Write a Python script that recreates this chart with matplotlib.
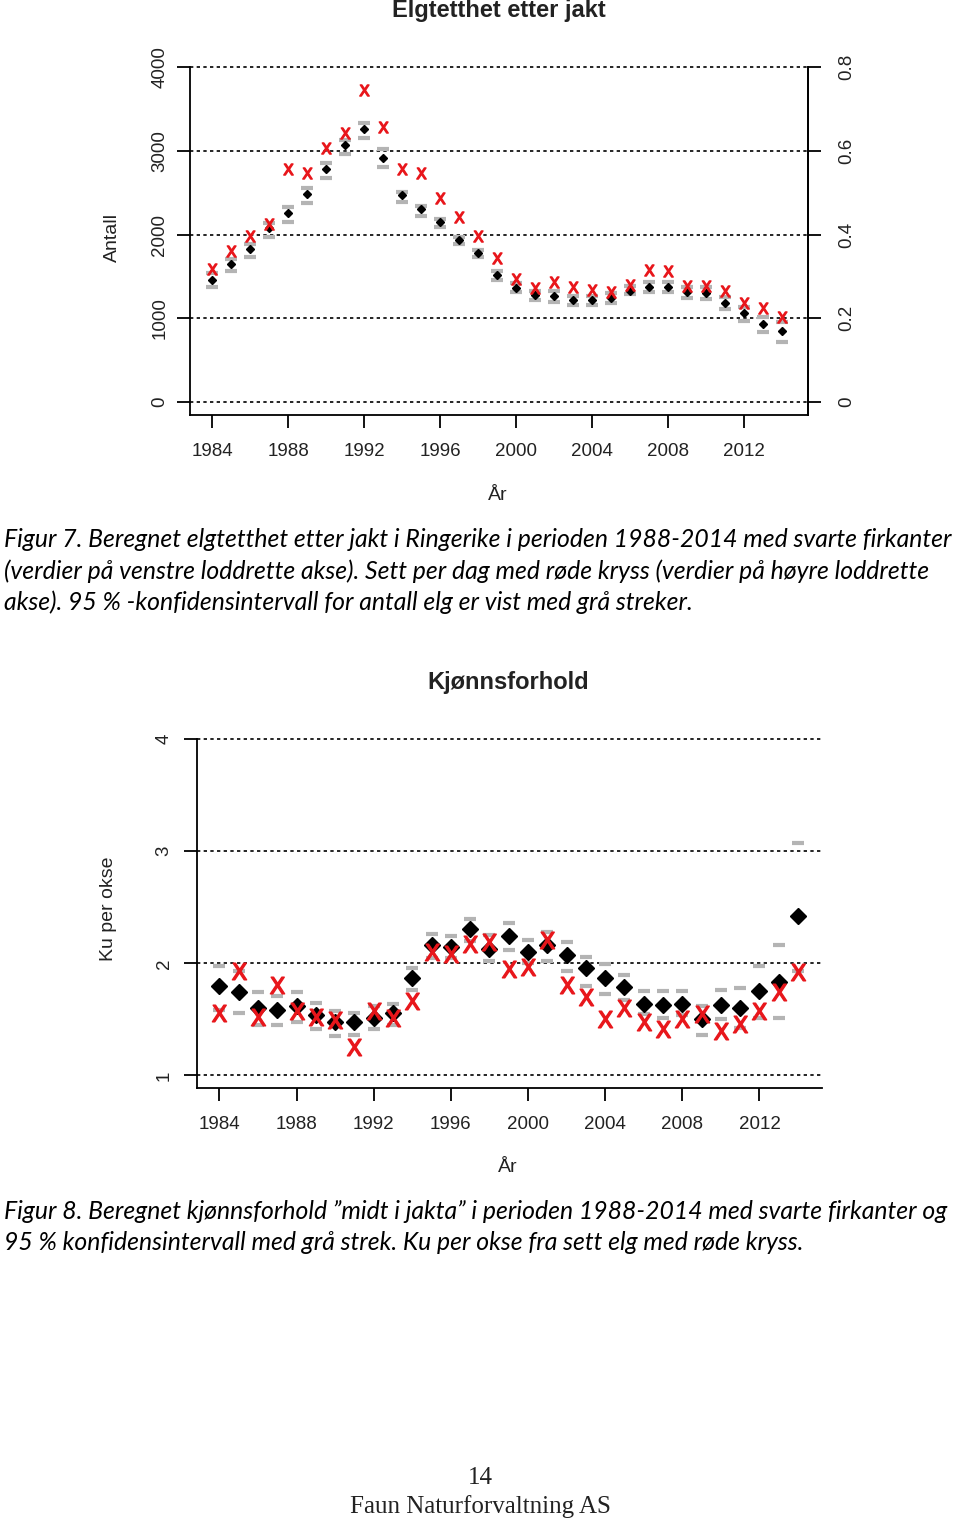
import matplotlib
matplotlib.use('Agg')
import matplotlib.pyplot as plt
import numpy as np

plt.rcParams['font.family'] = ['Liberation Sans', 'DejaVu Sans']

W, H = 960, 1522

years = np.arange(1984, 2015)
tick_years = [1984, 1988, 1992, 1996, 2000, 2004, 2008, 2012]

# Figur 7: elgtetthet etter jakt (antall) med 95 % KI, sett per dag
elg = [1457, 1648, 1831, 2081, 2253, 2484, 2782, 3069, 3256, 2917, 2472, 2301, 2145, 1938, 1779, 1516,
       1365, 1278, 1266, 1214, 1214, 1246, 1329, 1377, 1377, 1309, 1301, 1178, 1059, 931, 851]
elg_lo = [1369, 1564, 1731, 1974, 2149, 2372, 2679, 2961, 3152, 2810, 2392, 2221, 2086, 1883, 1735, 1457,
          1309, 1218, 1190, 1158, 1158, 1178, 1286, 1309, 1309, 1238, 1230, 1110, 971, 839, 720]
elg_hi = [1536, 1707, 1883, 2133, 2325, 2551, 2850, 3128, 3335, 3020, 2511, 2340, 2181, 1966, 1815, 1570,
          1420, 1320, 1330, 1260, 1260, 1300, 1380, 1430, 1430, 1370, 1370, 1250, 1140, 1010, 958]
sett_dag = [0.317, 0.361, 0.397, 0.425, 0.556, 0.548, 0.606, 0.642, 0.745, 0.657, 0.556, 0.548, 0.488, 0.443,
            0.397, 0.343, 0.294, 0.273, 0.287, 0.274, 0.267, 0.262, 0.279, 0.315, 0.313, 0.277, 0.278, 0.265,
            0.237, 0.225, 0.204]

# Figur 8: kjønnsforhold med 95 % KI, ku per okse fra sett elg
ku = [1.80, 1.74, 1.60, 1.58, 1.62, 1.54, 1.48, 1.48, 1.51, 1.56, 1.87, 2.16, 2.15, 2.31, 2.13, 2.24,
      2.10, 2.16, 2.07, 1.96, 1.87, 1.79, 1.64, 1.63, 1.64, 1.50, 1.63, 1.60, 1.75, 1.83, 2.42]
ku_lo = [1.58, 1.56, 1.45, 1.45, 1.48, 1.41, 1.35, 1.36, 1.41, 1.45, 1.76, 2.05, 2.05, 2.20, 2.02, 2.12,
         2.00, 2.02, 1.93, 1.80, 1.73, 1.67, 1.55, 1.51, 1.54, 1.36, 1.50, 1.42, 1.51, 1.51, 1.93]
ku_hi = [1.98, 1.93, 1.74, 1.71, 1.74, 1.65, 1.57, 1.56, 1.62, 1.64, 1.96, 2.26, 2.24, 2.40, 2.25, 2.36,
         2.21, 2.28, 2.19, 2.06, 1.99, 1.90, 1.75, 1.75, 1.75, 1.62, 1.76, 1.78, 1.98, 2.16, 3.07]
sett_ku = [1.56, 1.93, 1.52, 1.81, 1.57, 1.52, 1.49, 1.25, 1.57, 1.51, 1.66, 2.10, 2.08, 2.17, 2.19, 1.95,
           1.97, 2.21, 1.81, 1.70, 1.50, 1.60, 1.48, 1.41, 1.50, 1.55, 1.40, 1.46, 1.57, 1.74, 1.92]

fig = plt.figure(figsize=(W / 100, H / 100), dpi=100)


def rect(l, r, t, b):
    return [l / W, 1 - b / H, (r - l) / W, (b - t) / H]


def ftext(x, y, s, **kw):
    fig.text(x / W, 1 - y / H, s, **kw)


grey = '#b4b4b4'
red = '#e8161b'
xmark = r'$\mathsf{X}$'
dots = (0, (2, 2))
tick_kw = dict(length=9.5, width=1.3, labelsize=13.5, colors='black', labelcolor='#222222')

# ---------- Figur 7 ----------
ax = fig.add_axes(rect(190, 808, 60, 415))
ax.set_xlim(1982.84, 2015.37)
ax.set_ylim(-155, 4084)
for v in [0, 1000, 2000, 3000, 4000]:
    ax.axhline(v, color='black', ls=dots, lw=1.2, zorder=1)
ax.plot(years, elg_hi, ls='none', marker='_', ms=9, mew=3, color=grey, zorder=2)
ax.plot(years, elg_lo, ls='none', marker='_', ms=9, mew=3, color=grey, zorder=2)
ax.plot(years, elg, ls='none', marker='D', ms=4.5, color='black', zorder=3)
ax.spines['top'].set_visible(False)
ax.spines['left'].set_bounds(-155, 4000)
ax.spines['right'].set_bounds(-155, 4000)
for s in ax.spines.values():
    s.set_linewidth(1.3)
ax.set_yticks([0, 1000, 2000, 3000, 4000])
ax.set_yticklabels(['0', '1000', '2000', '3000', '4000'], rotation=90, va='center')
ax.set_xticks(tick_years)
ax.tick_params(**tick_kw)
ax.tick_params(axis='x', pad=11)
ax.tick_params(axis='y', pad=6)
ax.set_ylabel('Antall', fontsize=14, color='#222222', labelpad=22)

ax2 = ax.twinx()
ax2.set_ylim(-155 / 5000, 4084 / 5000)
ax2.plot(years, sett_dag, ls='none', marker=xmark, ms=8, color=red, zorder=4)
for k in ['top', 'left', 'bottom']:
    ax2.spines[k].set_visible(False)
ax2.spines['right'].set_bounds(-155 / 5000, 0.8)
ax2.spines['right'].set_linewidth(1.3)
ax2.set_yticks([0, 0.2, 0.4, 0.6, 0.8])
ax2.set_yticklabels(['0', '0.2', '0.4', '0.6', '0.8'], rotation=90, va='center')
ax2.tick_params(**tick_kw)
ax2.tick_params(axis='y', pad=12)

ftext(499, 10, 'Elgtetthet etter jakt', ha='center', va='center', fontsize=17, fontweight='bold', color='#222222')
ftext(498, 495, 'År', ha='center', va='center', fontsize=14, color='#222222')

# ---------- Figur 8 ----------
bx = fig.add_axes(rect(197, 822, 730, 1088))
bx.set_xlim(1982.84, 2015.24)
bx.set_ylim(0.887, 4.083)
for v in [1, 2, 3, 4]:
    bx.axhline(v, color='black', ls=dots, lw=1.2, zorder=1)
bx.plot(years, ku_hi, ls='none', marker='_', ms=9, mew=3, color=grey, zorder=2)
bx.plot(years, ku_lo, ls='none', marker='_', ms=9, mew=3, color=grey, zorder=2)
bx.plot(years, ku, ls='none', marker='D', ms=8, color='black', zorder=3)
bx.plot(years, sett_ku, ls='none', marker=xmark, ms=12, color=red, zorder=4)
bx.spines['top'].set_visible(False)
bx.spines['right'].set_visible(False)
bx.spines['left'].set_bounds(0.887, 4)
for s in bx.spines.values():
    s.set_linewidth(1.3)
bx.set_yticks([1, 2, 3, 4])
bx.set_yticklabels(['1', '2', '3', '4'], rotation=90, va='center')
bx.set_xticks(tick_years)
bx.tick_params(**tick_kw)
bx.tick_params(axis='x', pad=11)
bx.tick_params(axis='y', pad=8)
bx.set_ylabel('Ku per okse', fontsize=14, color='#222222', labelpad=28)

ftext(508, 682, 'Kjønnsforhold', ha='center', va='center', fontsize=17, fontweight='bold', color='#222222')
ftext(508, 1167, 'År', ha='center', va='center', fontsize=14, color='#222222')

# ---------- tekst ----------
cap = dict(fontsize=17.8, style='italic', family=['Lato', 'DejaVu Sans'], va='center', ha='left')
ftext(4, 540, 'Figur 7. Beregnet elgtetthet etter jakt i Ringerike i perioden 1988-2014 med svarte firkanter', **cap)
ftext(4, 571, '(verdier på venstre loddrette akse). Sett per dag med røde kryss (verdier på høyre loddrette', **cap)
ftext(4, 602, 'akse). 95 % -konfidensintervall for antall elg er vist med grå streker.', **cap)
ftext(4, 1211, 'Figur 8. Beregnet kjønnsforhold \u201dmidt i jakta\u201d i perioden 1988-2014 med svarte firkanter og', **cap)
ftext(4, 1242, '95 % konfidensintervall med grå strek. Ku per okse fra sett elg med røde kryss.', **cap)

foot = dict(fontsize=18, family=['Liberation Serif'], ha='center', va='center', color='#222222')
ftext(480, 1478, '14', **foot)
ftext(480, 1507, 'Faun Naturforvaltning AS', **foot)

fig.savefig('out.png', dpi=100)
